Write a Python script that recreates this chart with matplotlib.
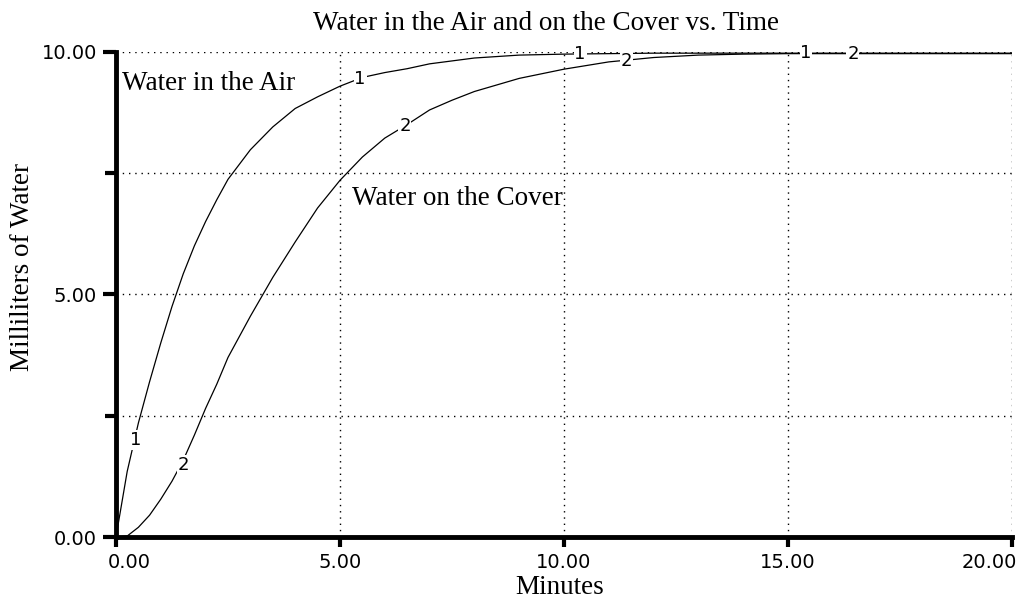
import matplotlib
matplotlib.use("Agg")
import matplotlib.pyplot as plt

# time in minutes
t = [0, 0.25, 0.5, 0.75, 1, 1.25, 1.5, 1.75, 2, 2.25, 2.5, 3, 3.5, 4, 4.5, 5,
     5.5, 6, 6.5, 7, 7.5, 8, 9, 10, 11, 12, 13, 14, 15, 16, 17, 18, 19, 20]

# water in the air (curve 1)
air = [0, 1.35, 2.35, 3.2, 4.0, 4.75, 5.42, 6.0, 6.5, 6.95, 7.37, 7.98, 8.45,
       8.83, 9.07, 9.29, 9.47, 9.57, 9.65, 9.75, 9.81, 9.87, 9.93, 9.95, 9.96,
       9.97, 9.97, 9.97, 9.97, 9.97, 9.97, 9.97, 9.97, 9.97]

# water on the cover (curve 2)
cover = [0, 0.02, 0.2, 0.45, 0.78, 1.15, 1.58, 2.1, 2.65, 3.15, 3.7, 4.55,
         5.35, 6.08, 6.78, 7.35, 7.83, 8.22, 8.5, 8.8, 9.0, 9.18, 9.45, 9.64,
         9.79, 9.88, 9.93, 9.95, 9.96, 9.96, 9.96, 9.96, 9.96, 9.96]

# where the curve numbers sit
air_marks = [(0.45, 2.0), (5.45, 9.44), (10.36, 9.96), (15.4, 9.97)]
cover_marks = [(1.5, 1.48), (6.45, 8.46), (11.4, 9.8), (16.45, 9.96)]

xtick_vals = [0, 5, 10, 15, 20]
xtick_text = ["0.00", "5.00", "10.00", "15.00", "20.00"]
ytick_vals = [0, 5, 10]
ytick_text = ["0.00", "5.00", "10.00"]

serif = "Liberation Serif"
sans = "DejaVu Sans"

fig = plt.figure(figsize=(10.21, 6.04), dpi=100)
ax = fig.add_axes([0.1136, 0.1109, 0.8776, 0.8035])

ax.plot(t, air, color="black", lw=0.9)
ax.plot(t, cover, color="black", lw=0.9)

for x, y in air_marks:
    ax.text(x, y, "1", family=sans, fontsize=13, ha="center", va="center",
            bbox=dict(facecolor="white", edgecolor="none", pad=0.5))
for x, y in cover_marks:
    ax.text(x, y, "2", family=sans, fontsize=13, ha="center", va="center",
            bbox=dict(facecolor="white", edgecolor="none", pad=0.5))

ax.text(0.13, 9.34, "Water in the Air", family=serif, fontsize=19.5,
        ha="left", va="center")
ax.text(5.27, 6.97, "Water on the Cover", family=serif, fontsize=19.5,
        ha="left", va="center")

ax.set_xlim(0, 20)
ax.set_ylim(0, 10)
# first and last x labels sit inside the axis ends, drawn separately
ax.set_xticks(xtick_vals)
ax.set_xticklabels([""] + xtick_text[1:-1] + [""])
ax.set_yticks(ytick_vals)
ax.set_yticklabels(ytick_text)
ax.set_yticks([2.5, 7.5], minor=True)

for lab in ax.get_xticklabels() + ax.get_yticklabels():
    lab.set_family(sans)
    lab.set_fontsize(14)

fig.text(108 / 1021, 1 - 563 / 604, xtick_text[0], family=sans, fontsize=14,
         ha="left", va="center")
fig.text(1017 / 1021, 1 - 563 / 604, xtick_text[-1], family=sans, fontsize=14,
         ha="right", va="center")

ax.tick_params(axis="x", which="major", direction="out", length=7, width=3, pad=4.5)
ax.tick_params(axis="y", which="major", direction="out", length=9.5, width=3, pad=4)
ax.tick_params(axis="y", which="minor", direction="out", length=8, width=3)

ax.grid(True, which="both", linestyle=(0, (1, 3.5)), color="black", lw=1)
ax.set_axisbelow(True)

for side in ["top", "right"]:
    ax.spines[side].set_visible(False)
for side in ["left", "bottom"]:
    ax.spines[side].set_linewidth(3.5)

fig.text(545.5 / 1021, 1 - 23 / 604, "Water in the Air and on the Cover vs. Time",
         family=serif, fontsize=19.5, ha="center", va="center")
fig.text(560 / 1021, 1 - 588 / 604, "Minutes", family=serif, fontsize=19.5,
         ha="center", va="center")
fig.text(23 / 1021, 1 - 267 / 604, "Milliliters of Water", family=serif,
         fontsize=19.5, ha="center", va="center", rotation=90)

fig.savefig("out.png", dpi=100)
